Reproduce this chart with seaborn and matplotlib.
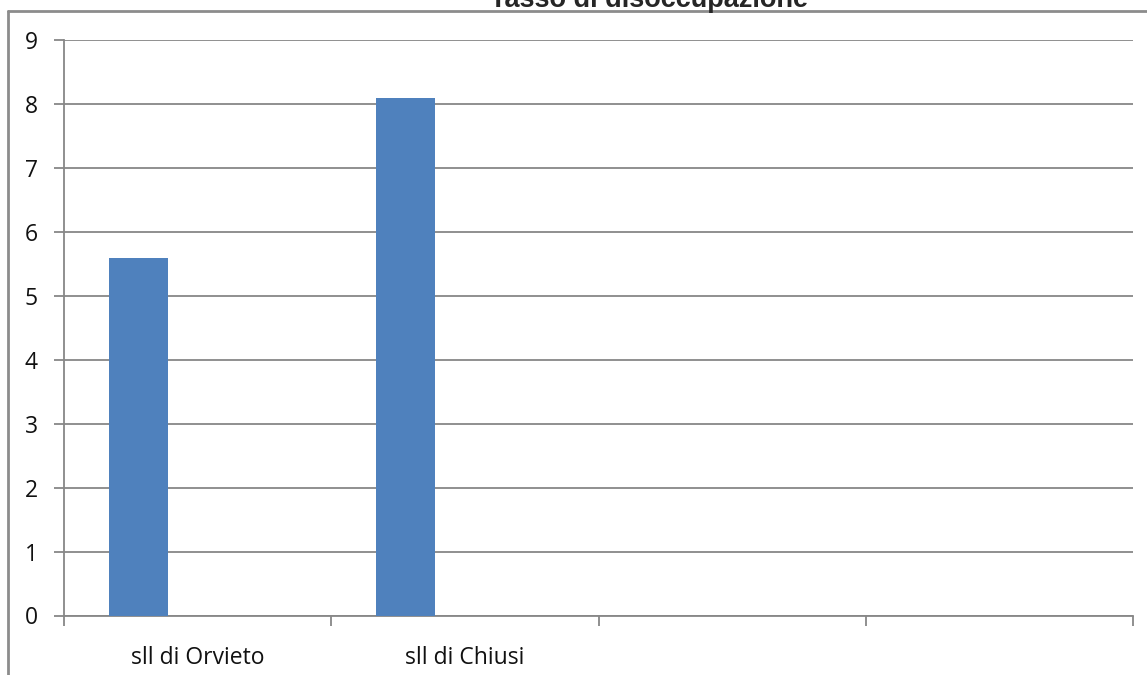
import numpy as np
import pandas as pd
import matplotlib

matplotlib.use("Agg")
import matplotlib.pyplot as plt
import seaborn as sns
from matplotlib.lines import Line2D

# data
categories = ["sll di Orvieto", "sll di Chiusi", "", " "]
series = ["Serie1", "Serie2", "Serie3"]
serie1_values = [5.6, 8.1, np.nan, np.nan]
serie2_values = [np.nan, np.nan, np.nan, np.nan]
serie3_values = [np.nan, np.nan, np.nan, np.nan]
y_ticks = list(range(0, 10))

df = pd.DataFrame(
    {
        "area": categories * 3,
        "serie": [s for s in series for _ in categories],
        "tasso": serie1_values + serie2_values + serie3_values,
    }
)

sns.set_style("white")
plt.rcParams["font.family"] = ["Open Sans", "DejaVu Sans"]

grid_color = "#878787"

fig = plt.figure(figsize=(11.47, 6.75), dpi=100)
ax = fig.add_axes([64 / 1147, 1 - 615.5 / 675, (1133 - 64) / 1147, (615.5 - 40.3) / 675])

sns.barplot(
    data=df,
    x="area",
    y="tasso",
    hue="serie",
    order=categories,
    hue_order=series,
    palette=["#4F81BD", "#C0504D", "#9BBB59"],
    saturation=1,
    width=2 / 3,
    legend=False,
    errorbar=None,
    linewidth=0,
    ax=ax,
    zorder=3,
)

ax.set_xlim(-0.5, len(categories) - 0.5)
ax.set_ylim(0, 9)
ax.set_yticks(y_ticks)
ax.set_xlabel("")
ax.set_ylabel("")

# gridlines
ax.yaxis.grid(True, color=grid_color, linewidth=1.3)
ax.set_axisbelow(True)

for side in ["top", "right"]:
    ax.spines[side].set_visible(False)
for side in ["left", "bottom"]:
    ax.spines[side].set_color(grid_color)
    ax.spines[side].set_linewidth(1.3)

# category boundaries as ticks, labels centered in between
ax.set_xticks(np.arange(-0.5, len(categories)), minor=True)
ax.tick_params(axis="x", which="major", bottom=True, length=0, pad=22, labelsize=16.5,
               labelcolor="#111111")
ax.tick_params(axis="x", which="minor", bottom=True, length=7, width=1.3,
               color=grid_color, direction="out")
ax.tick_params(axis="y", length=7, width=1.3, color=grid_color, direction="out",
               pad=12, labelsize=16.5, labelcolor="#111111", left=True)

# outer chart frame (only the top and left edges are visible in the crop)
fig.add_artist(Line2D([8 / 1147, 8 / 1147], [0, 1 - 11 / 675], color="#8c8c8c", linewidth=2))
fig.add_artist(Line2D([8 / 1147, 1], [1 - 11 / 675, 1 - 11 / 675], color="#8c8c8c", linewidth=2))

fig.text(649 / 1147, 1 - 7 / 675, "Tasso di disoccupazione", ha="center", va="baseline",
         fontsize=19.5, fontweight="bold", family=["Liberation Sans", "DejaVu Sans"])

fig.savefig("out.png", dpi=100)
